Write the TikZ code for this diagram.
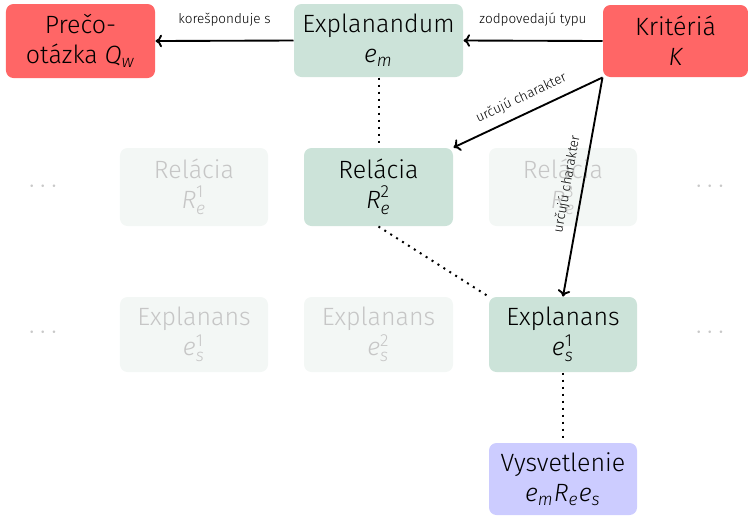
\documentclass[tikz,border=0pt]{standalone}
\usepackage{amsmath}
\usepackage{fontspec}
\setmainfont{Fira Sans Light}[ItalicFont={Fira Sans Light Italic}]
\usetikzlibrary{arrows.meta}
\definecolor{redbox}{HTML}{FF6666}
\definecolor{greenbox}{HTML}{CCE3D9}
\definecolor{bluebox}{HTML}{CCCCFF}
\definecolor{fadefill}{HTML}{F3F7F5}
\definecolor{fadetext}{HTML}{C6C6C6}
\definecolor{dotgray}{HTML}{C8C8C8}
\newcommand{\mi}[1]{\textit{#1}}
\newcommand{\mup}[1]{\textup{#1}}
\tikzset{
  box/.style={rounded corners=3pt, inner sep=0pt, align=center, font=\normalsize},
  redb/.style={box, fill=redbox},
  greenb/.style={box, fill=greenbox},
  blueb/.style={box, fill=bluebox},
  fadeb/.style={box, fill=fadefill, text=fadetext},
  dotsn/.style={text=dotgray, font=\normalsize},
  arr/.style={-{To[length=2.6pt,width=5pt]}, line width=0.75pt},
  dotl/.style={dotted, line width=0.8pt},
  lab/.style={font=\fontsize{5.4}{6.5}\selectfont}
}
\begin{document}
\begin{tikzpicture}[x=0.4pt,y=-0.4pt]
\useasboundingbox (0,0) rectangle (748,516);
\node[redb, minimum width=59.6pt, minimum height=29.6pt] (q) at (80.5,41) {Prečo-\\otázka $\mi{Q}_{\mi{w}}$};
\node[greenb, minimum width=67.6pt, minimum height=29.2pt] (em) at (378.5,40.5) {Explanandum\\$\mi{e}_{\mi{m}}$};
\node[redb, minimum width=58pt, minimum height=28.8pt] (K) at (675.5,41) {Kritériá\\$\mi{K}$};
\node[fadeb, minimum width=59.2pt, minimum height=31.2pt] (R1) at (194,187) {Relácia\\$\mi{R}_{\mi{e}}^{\mup{1}}$};
\node[greenb, minimum width=59.6pt, minimum height=31.2pt] (R2) at (378.5,187) {Relácia\\$\mi{R}_{\mi{e}}^{\mup{2}}$};
\node[fadeb, minimum width=59.2pt, minimum height=31.2pt] (R3) at (563,187) {Relácia\\$\mi{R}_{\mi{e}}^{\mup{3}}$};
\node[fadeb, minimum width=59.2pt, minimum height=30pt] (E1) at (194,334.5) {Explanans\\$\mi{e}_{\mi{s}}^{\mup{1}}$};
\node[fadeb, minimum width=59.6pt, minimum height=30pt] (E2) at (378.5,334.5) {Explanans\\$\mi{e}_{\mi{s}}^{\mup{2}}$};
\node[greenb, minimum width=59.2pt, minimum height=30pt] (E3) at (563,334.5) {Explanans\\$\mi{e}_{\mi{s}}^{\mup{1}}$};
\node[blueb, minimum width=59.2pt, minimum height=28.8pt] (V) at (563,479) {Vysvetlenie\\$\mi{e}_{\mi{m}}\mi{R}_{\mi{e}}\mi{e}_{\mi{s}}$};
\node[dotsn] (d1) at (45,187) {$\cdots$};
\node[dotsn] (d2) at (712,187) {$\cdots$};
\node[dotsn] (d3) at (45,333) {$\cdots$};
\node[dotsn] (d4) at (712,333) {$\cdots$};
\draw[arr] (em.west) -- node[lab, above=2pt] {korešponduje s} (q.east);
\draw[arr] (K.west) -- node[lab, above=2pt] {zodpovedajú typu} (em.east);
\draw[arr] (K.south west) -- node[lab, above, sloped] {určujú charakter} (R2.north east);
\draw[arr] (K.south west) -- node[lab, above, sloped] {určujú charakter} (E3.north);
\draw[dotl] (em.south) -- (R2.north);
\draw[dotl] (R2.south) -- (E3.north west);
\draw[dotl] (E3.south) -- (V.north);
\end{tikzpicture}
\end{document}
